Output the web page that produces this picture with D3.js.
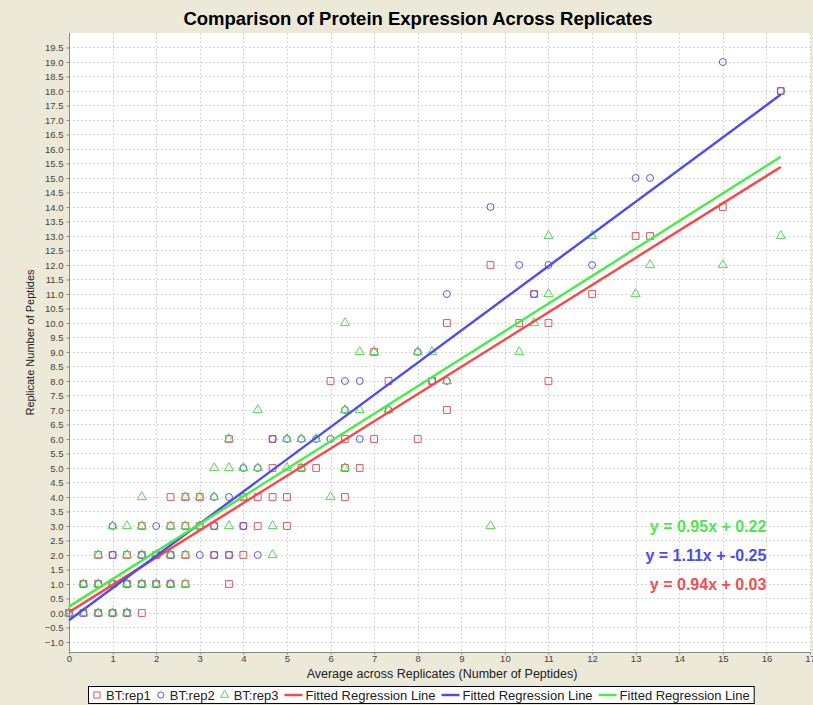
<!DOCTYPE html>
<html>
<head>
<meta charset="utf-8">
<script src="https://cdn.jsdelivr.net/npm/d3@7"></script>
<style>
  body { margin: 0; background: #ECE9D8; }
  svg { display: block; font-family: "Liberation Sans", Arial, sans-serif; }
</style>
</head>
<body>
<svg id="chart" width="813" height="705"></svg>
<script>
// Peptide counts per replicate against the average across the three replicates
const rep1 = [
  [0,0],[0.33,0],[0.67,0],[1,0],[1.33,0],[1.67,0],
  [0.33,1],[0.67,1],[1,1],[1.33,1],[1.67,1],[2,1],[2.33,1],[2.67,1],[3.67,1],
  [0.67,2],[1,2],[1.33,2],[1.67,2],[2,2],[2.33,2],[2.67,2],[3.33,2],[3.67,2],[4,2],
  [1.67,3],[2.33,3],[2.67,3],[3,3],[3.33,3],[4,3],[4.33,3],[5,3],
  [2.33,4],[2.67,4],[3,4],[4,4],[4.33,4],[4.67,4],[5,4],[6.33,4],
  [4.67,5],[5.33,5],[5.67,5],[6.33,5],[6.67,5],
  [3.67,6],[4.67,6],[6.33,6],[7,6],[8,6],
  [8.67,7],
  [6,8],[7.33,8],[8.33,8],[11,8],
  [7,9],
  [8.67,10],[10.33,10],[11,10],
  [10.67,11],[12,11],
  [9.67,12],
  [13,13],[13.33,13],
  [15,14],
  [16.33,18]
];
const rep2 = [
  [0,0],[0.33,0],[0.67,0],[1,0],[1.33,0],
  [0.33,1],[0.67,1],[1,1],[1.33,1],[1.67,1],[2,1],[2.33,1],
  [1,2],[1.67,2],[2,2],[2.33,2],[3,2],[3.33,2],[3.67,2],[4.33,2],
  [1,3],[2,3],[3.33,3],[4,3],
  [3.33,4],[3.67,4],
  [4,5],[4.33,5],
  [4.67,6],[5,6],[5.33,6],[5.67,6],[6,6],[6.67,6],
  [6.33,7],[7.33,7],
  [6.33,8],[6.67,8],[8.33,8],[8.67,8],
  [8,9],
  [8.67,11],[10.67,11],
  [10.33,12],[11,12],[12,12],
  [9.67,14],
  [13,15],[13.33,15],
  [16.33,18],
  [15,19]
];
const rep3 = [
  [0,0],[0.33,0],[0.67,0],[1,0],[1.33,0],
  [0.33,1],[0.67,1],[1,1],[1.33,1],[1.67,1],[2,1],[2.33,1],[2.67,1],
  [0.67,2],[1.33,2],[1.67,2],[2,2],[2.33,2],[2.67,2],[4.67,2],
  [1,3],[1.33,3],[1.67,3],[2.33,3],[2.67,3],[3,3],[3.67,3],[4.67,3],[9.67,3],
  [1.67,4],[2.67,4],[3,4],[3.33,4],[4,4],[6,4],
  [3.33,5],[3.67,5],[4,5],[4.33,5],[5,5],[5.33,5],[6.33,5],
  [3.67,6],[5,6],[5.33,6],[5.67,6],
  [4.33,7],[6.33,7],[6.67,7],[7.33,7],
  [8.67,8],
  [6.67,9],[7,9],[8,9],[8.33,9],[10.33,9],
  [6.33,10],[10.67,10],
  [11,11],[13,11],
  [13.33,12],[15,12],
  [11,13],[12,13],[16.33,13]
];

// Fitted regression lines (one per replicate)
const seriesNames = ["BT:rep1", "BT:rep2", "BT:rep3"];
const slopes = [0.94, 1.11, 0.95];
const intercepts = [0.03, -0.25, 0.22];
const fitRange = [0, 16.33];
const equationLabels = ["y = 0.94x + 0.03", "y = 1.11x + -0.25", "y = 0.95x + 0.22"];
const equationY = [1, 2, 3];

const xTicks = d3.range(0, 18, 1);
const yTicks = d3.range(-1, 19.51, 0.5);

const markerColors = ["#dc5a5a", "#5a5adc", "#5ad25a"];
const lineColors = ["#ff4444", "#4c4cf0", "#44ee44"];

const svg = d3.select("#chart");
const plot = { left: 69, top: 33, right: 811, bottom: 652 };

const x = d3.scaleLinear().domain([0, 17]).range([plot.left, plot.right - 1]);
const y = d3.scaleLinear().domain([-1.345, 20.0]).range([plot.bottom, plot.top]);

// Title
svg.append("text")
  .attr("x", 418).attr("y", 25)
  .attr("text-anchor", "middle")
  .attr("font-size", 18.5).attr("font-weight", "bold")
  .attr("fill", "#000")
  .text("Comparison of Protein Expression Across Replicates");

// Plot background
svg.append("rect")
  .attr("x", plot.left).attr("y", plot.top)
  .attr("width", plot.right - plot.left).attr("height", plot.bottom - plot.top)
  .attr("fill", "#fff");

// Grid
const grid = svg.append("g").attr("stroke", "#d6d6d6").attr("stroke-width", 1).attr("stroke-dasharray", "2,2");
grid.selectAll("line.gx").data(xTicks.slice(1)).join("line")
  .attr("x1", d => Math.round(x(d)) + 0.5).attr("x2", d => Math.round(x(d)) + 0.5)
  .attr("y1", plot.top).attr("y2", plot.bottom);
grid.selectAll("line.gy").data(yTicks).join("line")
  .attr("y1", d => Math.round(y(d)) + 0.5).attr("y2", d => Math.round(y(d)) + 0.5)
  .attr("x1", plot.left).attr("x2", plot.right);

// Axes
const yAxis = d3.axisLeft(y).tickValues(yTicks).tickFormat(d3.format(".1f")).tickSize(3).tickPadding(3);
const xAxis = d3.axisBottom(x).tickValues(xTicks).tickFormat(d3.format("d")).tickSize(2).tickPadding(1);

const gy = svg.append("g").attr("transform", `translate(${plot.left + 0.5},0)`).call(yAxis);
const gx = svg.append("g").attr("transform", `translate(0,${plot.bottom + 0.5})`).call(xAxis);
[gx, gy].forEach(g => {
  g.select(".domain").attr("stroke", "#8a8a8a");
  g.selectAll(".tick line").attr("stroke", "#8a8a8a");
  g.selectAll(".tick text").attr("fill", "#444").attr("font-size", 9.5)
    .attr("font-family", "'Liberation Sans', Arial, sans-serif");
});
gx.select(".domain").attr("d", `M${plot.left},0H${plot.right}`);
gy.select(".domain").attr("d", `M0,${plot.top}V${plot.bottom}`);

// Axis titles
svg.append("text")
  .attr("x", (plot.left + plot.right) / 2 + 2).attr("y", 678)
  .attr("text-anchor", "middle").attr("font-size", 12.5).attr("fill", "#222")
  .text("Average across Replicates (Number of Peptides)");
svg.append("text")
  .attr("transform", `translate(34,${(plot.top + plot.bottom) / 2}) rotate(-90)`)
  .attr("text-anchor", "middle").attr("font-size", 11).attr("fill", "#222")
  .text("Replicate Number of Peptides");

// Markers
const symbolTypes = [d3.symbolSquare, d3.symbolCircle, d3.symbolTriangle];
const symbolSizes = [46, 38, 36];
const marks = svg.append("g").attr("fill", "none").attr("stroke-width", 1);
[rep1, rep2, rep3].forEach((data, i) => {
  const sym = d3.symbol().type(symbolTypes[i]).size(symbolSizes[i]);
  marks.append("g").selectAll("path").data(data).join("path")
    .attr("transform", d => `translate(${x(d[0])},${y(d[1])})`)
    .attr("d", sym)
    .attr("stroke", markerColors[i]);
});

// Regression lines
const lines = svg.append("g").attr("fill", "none").attr("stroke-width", 2.4);
slopes.forEach((m, i) => {
  const pts = fitRange.map(v => [v, m * v + intercepts[i]]);
  lines.append("path")
    .attr("d", d3.line().x(d => x(d[0])).y(d => y(d[1]))(pts))
    .attr("stroke", lineColors[i]);
});

// Equation labels
const eqColors = ["#f05050", "#4c4cf0", "#4ee64e"];
equationLabels.forEach((t, i) => {
  svg.append("text")
    .attr("x", x(16)).attr("y", y(equationY[i]))
    .attr("dy", "0.35em")
    .attr("text-anchor", "end")
    .attr("font-size", 16).attr("font-weight", "bold")
    .attr("fill", eqColors[i])
    .text(t);
});

// Legend
const legend = svg.append("g");
const legendBox = legend.append("rect")
  .attr("y", 686.5).attr("height", 17)
  .attr("fill", "#fff").attr("stroke", "#000").attr("stroke-width", 1);
const legendItems = [
  { kind: "symbol", idx: 0, label: seriesNames[0] },
  { kind: "symbol", idx: 1, label: seriesNames[1] },
  { kind: "symbol", idx: 2, label: seriesNames[2] },
  { kind: "line", idx: 0, label: "Fitted Regression Line" },
  { kind: "line", idx: 1, label: "Fitted Regression Line" },
  { kind: "line", idx: 2, label: "Fitted Regression Line" }
];
const legendLeft = 88;
let cx = legendLeft + 5;
const ly = 695;
legendItems.forEach(item => {
  if (item.kind === "symbol") {
    legend.append("path")
      .attr("transform", `translate(${cx + 4},${ly})`)
      .attr("d", d3.symbol().type(symbolTypes[item.idx]).size(symbolSizes[item.idx] - 8)())
      .attr("fill", "none").attr("stroke", markerColors[item.idx]);
    cx += 13;
  } else {
    legend.append("line")
      .attr("x1", cx).attr("x2", cx + 18).attr("y1", ly).attr("y2", ly)
      .attr("stroke", lineColors[item.idx]).attr("stroke-width", 2.4);
    cx += 21;
  }
  const t = legend.append("text")
    .attr("x", cx).attr("y", ly).attr("dy", "0.35em")
    .attr("font-size", 13).attr("fill", "#222")
    .text(item.label);
  cx += t.node().getComputedTextLength() + 6;
});
legendBox.attr("x", legendLeft + 0.5).attr("width", cx - legendLeft - 2);
</script>
</body>
</html>
